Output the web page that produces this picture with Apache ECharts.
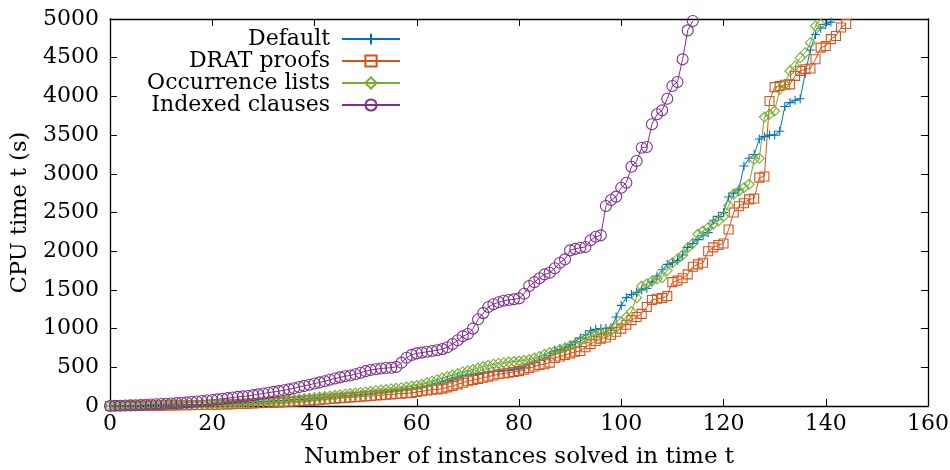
<!DOCTYPE html>
<html>
<head>
<meta charset="utf-8">
<script src="https://cdn.jsdelivr.net/npm/echarts@6/dist/echarts.min.js"></script>
<style>html,body{margin:0;padding:0;background:#fff;}#c{width:950px;height:470px;}</style>
</head>
<body>
<div id="c"></div>
<script>
// Series names
var seriesNames = ['Default', 'DRAT proofs', 'Occurrence lists', 'Indexed clauses'];

// CPU time (s) for the i-th solved instance (x = 0, 1, 2, ...)
var defaultTimes = [
  0,1,2,3,4,5,6,7,8,9,10,
  11,12,13,14,15,16,17,18,20,22,
  25,28,31,34,37,40,44,48,52,56,
  60,64,68,72,76,80,85,90,95,100,
  105,110,115,120,125,130,135,140,145,150,
  158,165,172,180,188,195,200,208,215,225,
  240,255,270,290,310,330,350,370,390,400,
  410,420,430,438,445,450,455,460,470,480,
  500,540,560,590,620,650,710,730,760,790,
  830,880,920,970,990,1000,1005,1010,1150,1300,
  1400,1440,1470,1500,1520,1600,1680,1760,1830,1850,
  1880,1950,2050,2100,2150,2200,2240,2400,2450,2500,
  2700,2750,2800,3100,3200,3250,3450,3480,3500,3500,
  3550,3870,3920,3950,3970,4300,4600,4800,4880,4930,4960
];
var dratTimes = [
  0,0,1,1,2,2,3,3,4,4,5,
  6,7,8,9,10,11,12,13,14,15,
  17,19,21,23,25,27,29,32,35,38,
  41,44,47,50,54,58,62,66,70,75,
  80,85,90,95,100,105,110,115,120,125,
  130,135,140,145,150,155,160,165,170,180,
  190,200,210,215,225,240,260,280,300,320,
  335,350,365,380,395,410,420,430,440,450,
  470,490,510,530,540,560,620,640,660,680,
  700,710,760,800,840,870,885,920,960,1000,
  1050,1110,1150,1190,1280,1370,1385,1395,1420,1600,
  1620,1650,1700,1800,1830,1850,2000,2050,2080,2100,
  2280,2500,2580,2620,2670,2680,2950,2965,3940,4120,
  4135,4150,4155,4265,4330,4350,4360,4480,4630,4650,4740,4780,4890,4935
];
var occurrenceTimes = [
  0,1,2,3,4,5,6,7,8,9,10,
  11,12,14,15,17,18,20,22,24,26,
  28,31,34,37,40,43,46,50,54,58,
  62,66,70,75,80,85,90,95,100,108,
  115,122,130,137,145,152,160,167,175,182,
  190,198,205,212,220,228,236,245,255,265,
  280,300,320,340,360,380,400,420,440,455,
  470,490,510,525,540,550,560,570,575,580,
  590,600,620,640,668,690,710,730,750,775,
  800,840,870,900,920,940,960,980,1020,1080,
  1150,1220,1400,1550,1580,1615,1640,1658,1750,1850,
  1900,1950,2045,2100,2218,2260,2304,2350,2390,2450,
  2590,2735,2778,2820,2864,3187,3200,3733,3769,3811,
  4092,4156,4328,4393,4500,4565,4694,4910,4930
];
var indexedTimes = [
  0,2,4,6,8,10,13,16,19,22,25,
  29,33,37,42,47,52,58,64,71,78,
  86,94,102,110,118,125,130,140,150,162,
  172,182,192,203,215,230,245,260,275,290,
  305,320,340,355,370,385,395,410,430,450,
  465,475,485,490,495,505,560,624,660,680,
  690,700,710,720,735,760,800,850,900,930,
  1000,1120,1200,1280,1314,1340,1360,1370,1378,1390,
  1450,1550,1600,1650,1700,1722,1780,1850,1895,2011,
  2030,2045,2054,2141,2187,2205,2584,2661,2705,2820,
  2885,3092,3165,3337,3346,3640,3769,3820,3970,4134,4186,4479,4853,4974
];

// Axis ranges / tick steps
var xRange = [0, 160], xStep = 20;
var yRange = [0, 5000], yStep = 500;

var colors = ['#0072bd', '#d95319', '#77ac30', '#7e2f8e'];
var symbols = ['path://M0,5L10,5M5,0L5,10', 'rect', 'path://M5,0L10,5L5,10L0,5Z', 'circle'];
var symbolSizes = [9, 9, 10, 11];
var allData = [defaultTimes, dratTimes, occurrenceTimes, indexedTimes];

function toPairs(arr) { return arr.map(function (v, i) { return [i, v]; }); }

var FONT = 'DejaVu Serif';
var axisCommon = {
  axisLine: { show: true, onZero: false, lineStyle: { color: '#000', width: 1.3 } },
  axisTick: { show: true, inside: true, length: 7, lineStyle: { color: '#000', width: 1 } },
  splitLine: { show: false },
  minorTick: { show: false }
};

var series = seriesNames.map(function (name, k) {
  return {
    name: name,
    type: 'line',
    xAxisIndex: 0, yAxisIndex: 0,
    data: toPairs(allData[k]),
    symbol: symbols[k],
    symbolSize: symbolSizes[k],
    showSymbol: true,
    showAllSymbol: true,
    lineStyle: { color: colors[k], width: 1 },
    itemStyle: { color: 'none', borderColor: colors[k], borderWidth: 1.1 },
    emphasis: { disabled: true },
    clip: true
  };
});

var chart = echarts.init(document.getElementById('c'), null, { renderer: 'canvas' });
chart.setOption({
  animation: false,
  backgroundColor: '#fff',
  textStyle: { fontFamily: FONT },
  grid: { left: 110, top: 19, width: 818, height: 387, containLabel: false, outerBoundsMode: 'none' },
  legend: {
    orient: 'vertical',
    align: 'right',
    right: 549,
    top: 28,
    padding: 0,
    itemWidth: 58,
    itemHeight: 14,
    itemGap: 0,
    data: seriesNames,
    formatter: function (n) { return n + ' '; },
    textStyle: { fontFamily: FONT, fontSize: 22, lineHeight: 21, color: '#000' }
  },
  xAxis: [
    Object.assign({}, axisCommon, {
      type: 'value', position: 'bottom', min: xRange[0], max: xRange[1], interval: xStep,
      axisLabel: { show: true, margin: 7, fontFamily: FONT, fontSize: 22, color: '#000' },
      name: 'Number of instances solved in time t',
      nameLocation: 'middle', nameGap: 40,
      nameTextStyle: { fontFamily: FONT, fontSize: 23, color: '#000' }
    }),
    Object.assign({}, axisCommon, {
      type: 'value', position: 'top', min: xRange[0], max: xRange[1], interval: xStep,
      axisLabel: { show: false }
    })
  ],
  yAxis: [
    Object.assign({}, axisCommon, {
      type: 'value', position: 'left', min: yRange[0], max: yRange[1], interval: yStep,
      axisLabel: { show: true, margin: 11, fontFamily: FONT, fontSize: 22, color: '#000',
        formatter: function (v) { return String(v); } },
      name: 'CPU time t (s)',
      nameLocation: 'middle', nameGap: 57, nameRotate: 90,
      nameTextStyle: { fontFamily: FONT, fontSize: 22.5, color: '#000' }
    }),
    Object.assign({}, axisCommon, {
      type: 'value', position: 'right', min: yRange[0], max: yRange[1], interval: yStep,
      axisLabel: { show: false }
    })
  ],
  series: series
});
</script>
</body>
</html>
